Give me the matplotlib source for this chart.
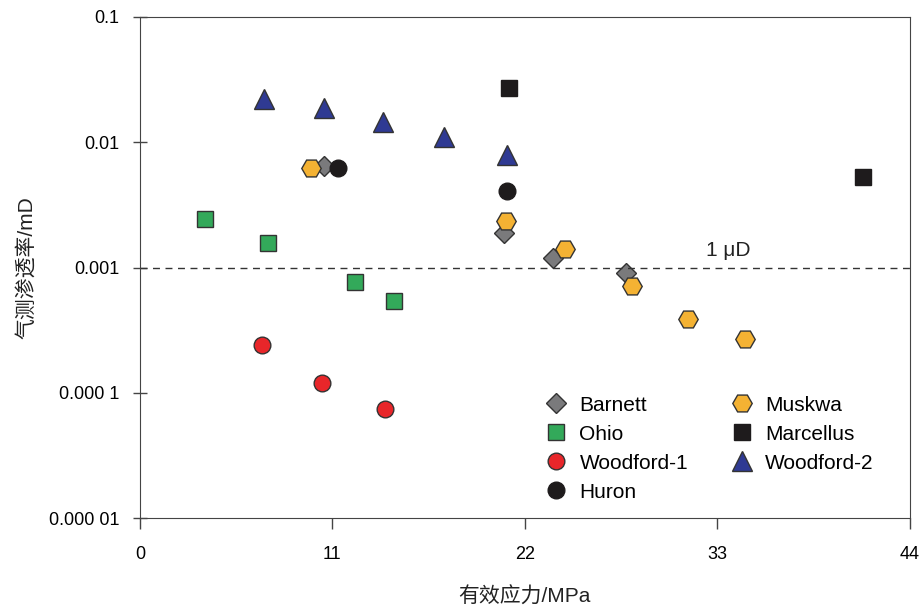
import matplotlib.pyplot as plt
from matplotlib.ticker import FixedLocator, NullLocator

plt.rcParams['font.family'] = ['Liberation Sans', 'Noto Sans CJK SC']

# effective stress (MPa) / gas permeability (mD)
barnett_x = [10.5, 20.8, 23.6, 27.8]
barnett_y = [0.0065, 0.0019, 0.0012, 0.0009]
ohio_x = [3.7, 7.3, 12.3, 14.5]
ohio_y = [0.00245, 0.00158, 0.00077, 0.00054]
woodford1_x = [7.0, 10.4, 14.0]
woodford1_y = [0.00024, 0.00012, 0.000074]
huron_x = [11.3, 21.0]
huron_y = [0.0062, 0.0041]
muskwa_x = [9.8, 20.9, 24.3, 28.1, 31.3, 34.6]
muskwa_y = [0.0062, 0.00235, 0.0014, 0.00071, 0.00039, 0.00027]
marcellus_x = [21.1, 41.3]
marcellus_y = [0.027, 0.0053]
woodford2_x = [7.1, 10.5, 13.9, 17.4, 21.0]
woodford2_y = [0.022, 0.0187, 0.0145, 0.011, 0.0079]

fig = plt.figure(figsize=(9.19, 6.09), dpi=100)
ax = fig.add_axes([0.1523, 0.1494, 0.8377, 0.8227])

ec = '#333333'
ax.plot(barnett_x, barnett_y, ls='none', marker='D', ms=10, mfc='#7a7a7c', mec=ec, mew=1, label='Barnett')
ax.plot(ohio_x, ohio_y, ls='none', marker='s', ms=12, mfc='#33a95a', mec=ec, mew=1, label='Ohio')
ax.plot(woodford1_x, woodford1_y, ls='none', marker='o', ms=12, mfc='#e8262a', mec=ec, mew=1, label='Woodford-1')
ax.plot(huron_x, huron_y, ls='none', marker='o', ms=12, mfc='#1e1b1c', mec='#1e1b1c', mew=1, label='Huron')
ax.plot(muskwa_x, muskwa_y, ls='none', marker='H', ms=14, mfc='#f4b233', mec=ec, mew=1, label='Muskwa')
ax.plot(marcellus_x, marcellus_y, ls='none', marker='s', ms=11, mfc='#1e1b1c', mec='#1e1b1c', mew=1, label='Marcellus')
ax.plot(woodford2_x, woodford2_y, ls='none', marker='^', ms=14, mfc='#2f3a93', mec=ec, mew=1, label='Woodford-2')

ax.axhline(0.001, color='#333333', ls=(0, (5, 4)), lw=1)
ax.text(33.6, 0.00115, '1 μD', fontsize=15, ha='center', va='bottom', color='#222222')

ax.set_xscale('linear')
ax.set_yscale('log')
ax.set_xlim(0, 44)
ax.set_ylim(1e-5, 0.1)
ax.xaxis.set_major_locator(FixedLocator([0, 11, 22, 33, 44]))
ax.yaxis.set_major_locator(FixedLocator([1e-5, 1e-4, 1e-3, 1e-2, 1e-1]))
ax.yaxis.set_minor_locator(NullLocator())
ax.set_yticklabels(['0.000 01', '0.000 1', '0.001', '0.01', '0.1'])

for s in ax.spines.values():
    s.set_color('#444444')
ax.tick_params(axis='x', direction='out', length=8, width=1, color='#444444', labelsize=13, pad=12)
ax.tick_params(axis='y', direction='inout', length=10, width=1, color='#444444', labelsize=13, pad=10)

ax.set_xlabel('有效应力/MPa', fontsize=15, labelpad=17, color='#222222')
ax.set_ylabel('气测渗透率/mD', fontsize=15, labelpad=9, color='#222222')

ax.legend(ncol=2, frameon=False, fontsize=15, loc='upper left', bbox_to_anchor=(0.514, 0.261),
          borderaxespad=0, handletextpad=0.5, columnspacing=2.0, labelspacing=0.48, handlelength=1.2)

fig.savefig('out.png', dpi=100)
